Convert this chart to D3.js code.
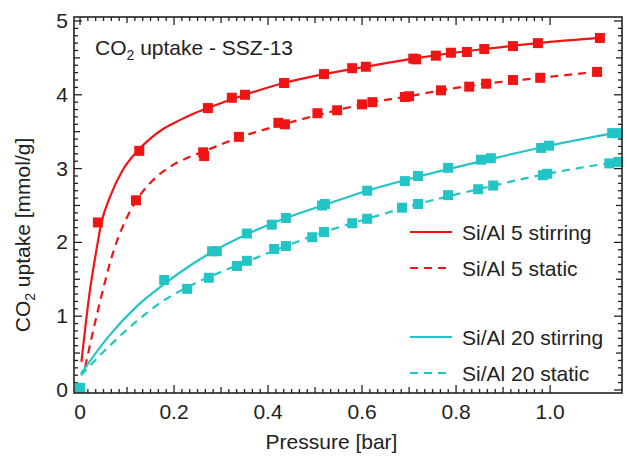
<!DOCTYPE html>
<html>
<head>
<meta charset="utf-8">
<script src="https://cdn.jsdelivr.net/npm/d3@7"></script>
<style>
  body { margin: 0; background: #fff; }
  text { font-family: "Liberation Sans", Arial, sans-serif; fill: #222; }
</style>
</head>
<body>
<svg width="627" height="457"></svg>
<script>
// measured points [pressure bar, uptake mmol/g]
const si5StirPts = [[0.038,2.27],[0.126,3.24],[0.272,3.82],[0.323,3.96],[0.351,4.0],[0.434,4.16],[0.519,4.28],[0.579,4.36],[0.608,4.38],[0.709,4.49],[0.715,4.48],[0.757,4.53],[0.789,4.57],[0.823,4.58],[0.860,4.62],[0.921,4.66],[0.974,4.70],[1.106,4.77]];
const si5StatPts = [[0.119,2.57],[0.262,3.22],[0.264,3.17],[0.338,3.43],[0.422,3.62],[0.436,3.60],[0.505,3.75],[0.547,3.79],[0.600,3.87],[0.622,3.90],[0.691,3.97],[0.700,3.98],[0.768,4.06],[0.828,4.11],[0.864,4.15],[0.921,4.20],[0.979,4.23],[1.100,4.31]];
const si20StirPts = [[0.0,0.03],[0.179,1.49],[0.281,1.88],[0.291,1.88],[0.355,2.12],[0.408,2.24],[0.438,2.33],[0.515,2.50],[0.521,2.52],[0.611,2.70],[0.691,2.83],[0.719,2.90],[0.783,3.01],[0.853,3.12],[0.874,3.14],[0.981,3.28],[0.998,3.31],[1.132,3.48],[1.143,3.48]];
const si20StatPts = [[0.228,1.37],[0.274,1.52],[0.334,1.68],[0.355,1.75],[0.413,1.91],[0.438,1.95],[0.494,2.07],[0.519,2.14],[0.579,2.26],[0.611,2.32],[0.685,2.47],[0.719,2.52],[0.783,2.64],[0.847,2.72],[0.879,2.77],[0.985,2.91],[0.994,2.93],[1.126,3.07],[1.145,3.09]];

// fitted curves
const si5StirFit = [[0.003,0.38],[0.02,1.3],[0.035,1.9],[0.045,2.25],[0.064,2.62],[0.09,2.97],[0.121,3.23],[0.15,3.41],[0.18,3.55],[0.21,3.65],[0.24,3.74],[0.272,3.82],[0.351,4.0],[0.434,4.16],[0.519,4.28],[0.608,4.38],[0.709,4.49],[0.860,4.62],[0.974,4.70],[1.106,4.77]];
const si5StatFit = [[0.011,0.31],[0.03,0.86],[0.049,1.36],[0.065,1.75],[0.081,2.06],[0.1,2.34],[0.119,2.56],[0.14,2.74],[0.163,2.89],[0.198,3.05],[0.23,3.15],[0.262,3.23],[0.338,3.42],[0.432,3.60],[0.547,3.79],[0.622,3.90],[0.691,3.97],[0.768,4.06],[0.864,4.15],[0.979,4.23],[1.100,4.31]];
const si20StirFit = [[0.002,0.22],[0.06,0.72],[0.12,1.13],[0.18,1.44],[0.24,1.71],[0.281,1.87],[0.355,2.11],[0.438,2.33],[0.521,2.51],[0.611,2.70],[0.719,2.89],[0.874,3.13],[0.998,3.31],[1.153,3.50]];
const si20StatFit = [[0.002,0.2],[0.06,0.58],[0.12,0.93],[0.18,1.22],[0.24,1.43],[0.3,1.60],[0.355,1.74],[0.438,1.95],[0.519,2.14],[0.611,2.32],[0.719,2.52],[0.847,2.72],[0.994,2.93],[1.153,3.10]];

const xTicks = [0, 0.2, 0.4, 0.6, 0.8, 1.0];
const xTickLabels = ['0', '0.2', '0.4', '0.6', '0.8', '1.0'];
const yTicks = [0, 1, 2, 3, 4, 5];
const legendNames = ['Si/Al 5 stirring', 'Si/Al 5 static', 'Si/Al 20 stirring', 'Si/Al 20 static'];

const red = '#f01414';
const cyan = '#22c4c6';

const series = [
  { name: legendNames[0], pts: si5StirPts, fit: si5StirFit, color: red, dash: null, ly: 232 },
  { name: legendNames[1], pts: si5StatPts, fit: si5StatFit, color: red, dash: '8,6', ly: 268 },
  { name: legendNames[2], pts: si20StirPts, fit: si20StirFit, color: cyan, dash: null, ly: 337 },
  { name: legendNames[3], pts: si20StatPts, fit: si20StatFit, color: cyan, dash: '8,6', ly: 373 }
];

const svg = d3.select('svg');
const margin = { top: 17, right: 5, bottom: 64, left: 74 };
const innerWidth = +svg.attr('width') - margin.left - margin.right;
const innerHeight = +svg.attr('height') - margin.top - margin.bottom;

// scales map straight to page pixels
const xScale = d3.scaleLinear().domain([-0.0128, 1.153]).range([margin.left, margin.left + innerWidth]);
const yScale = d3.scaleLinear().domain([-0.041, 5.054]).range([margin.top + innerHeight, margin.top]);
const x0 = margin.left, x1 = margin.left + innerWidth;
const y0 = margin.top + innerHeight, y1 = margin.top;

// minor/major ticks on all four sides, pointing in
const xMinor = d3.range(0, 61).map(i => i * 0.2 / 12).filter(v => v <= 1.153);
const yMinor = d3.range(0, 51).map(i => i * 0.1);
const tickLen = v => (Math.abs(v / 0.2 - Math.round(v / 0.2)) < 1e-6 ? 8 : (Math.abs(v / 0.1 - Math.round(v / 0.1)) < 1e-6 ? 6 : 4));
const yLen = v => (Math.abs(v - Math.round(v)) < 1e-6 ? 8 : (Math.abs(v * 2 - Math.round(v * 2)) < 1e-6 ? 6 : 4));

const ticksG = svg.append('g').attr('stroke', '#222').attr('stroke-width', 1.3);
xMinor.forEach(v => {
  const x = xScale(v);
  ticksG.append('line').attr('x1', x).attr('x2', x).attr('y1', y0).attr('y2', y0 - tickLen(v));
  ticksG.append('line').attr('x1', x).attr('x2', x).attr('y1', y1).attr('y2', y1 + tickLen(v));
});
yMinor.forEach(v => {
  const y = yScale(v);
  ticksG.append('line').attr('x1', x0).attr('x2', x0 + yLen(v)).attr('y1', y).attr('y2', y);
  ticksG.append('line').attr('x1', x1).attr('x2', x1 - yLen(v)).attr('y1', y).attr('y2', y);
});

// tick labels
svg.selectAll('.xlab').data(xTicks)
  .enter().append('text')
  .attr('class', 'xlab')
  .attr('x', d => xScale(d))
  .attr('y', y0 + 26)
  .attr('text-anchor', 'middle')
  .attr('font-size', 21)
  .text((d, i) => xTickLabels[i]);

svg.selectAll('.ylab').data(yTicks)
  .enter().append('text')
  .attr('class', 'ylab')
  .attr('x', x0 - 6)
  .attr('y', d => yScale(d) + 7)
  .attr('text-anchor', 'end')
  .attr('font-size', 21)
  .text(d => d);

// fitted curves
const line = d3.line().x(d => xScale(d[0])).y(d => yScale(d[1])).curve(d3.curveMonotoneX);
series.forEach(s => {
  svg.append('path')
    .datum(s.fit)
    .attr('d', line)
    .attr('fill', 'none')
    .attr('stroke', s.color)
    .attr('stroke-width', 2.2)
    .attr('stroke-dasharray', s.dash);
});

// squares
series.forEach(s => {
  svg.selectAll(null).data(s.pts)
    .enter().append('rect')
    .attr('x', d => xScale(d[0]) - 5)
    .attr('y', d => yScale(d[1]) - 5)
    .attr('width', 10)
    .attr('height', 10)
    .attr('fill', s.color);
});

// frame
svg.append('rect')
  .attr('x', x0).attr('y', y1)
  .attr('width', innerWidth)
  .attr('height', innerHeight)
  .attr('fill', 'none')
  .attr('stroke', '#222')
  .attr('stroke-width', 1.6);

// legend
series.forEach(s => {
  svg.append('line')
    .attr('x1', 410).attr('x2', 452)
    .attr('y1', s.ly).attr('y2', s.ly)
    .attr('stroke', s.color)
    .attr('stroke-width', 2.2)
    .attr('stroke-dasharray', s.dash);
  svg.append('text')
    .attr('x', 462).attr('y', s.ly + 8)
    .attr('font-size', 21)
    .text(s.name);
});

// title
const title = svg.append('text').attr('x', 95).attr('y', 55).attr('font-size', 21);
title.append('tspan').text('CO');
title.append('tspan').attr('font-size', 14).attr('dy', 5).text('2');
title.append('tspan').attr('dy', -5).text(' uptake - SSZ-13');

// axis labels
svg.append('text')
  .attr('x', xScale(0.535)).attr('y', 449)
  .attr('text-anchor', 'middle')
  .attr('font-size', 21)
  .text('Pressure [bar]');

const yl = svg.append('text')
  .attr('transform', `translate(30, ${235}) rotate(-90)`)
  .attr('text-anchor', 'middle')
  .attr('font-size', 21);
yl.append('tspan').text('CO');
yl.append('tspan').attr('font-size', 14).attr('dy', 5).text('2');
yl.append('tspan').attr('dy', -5).text(' uptake [mmol/g]');
</script>
</body>
</html>
